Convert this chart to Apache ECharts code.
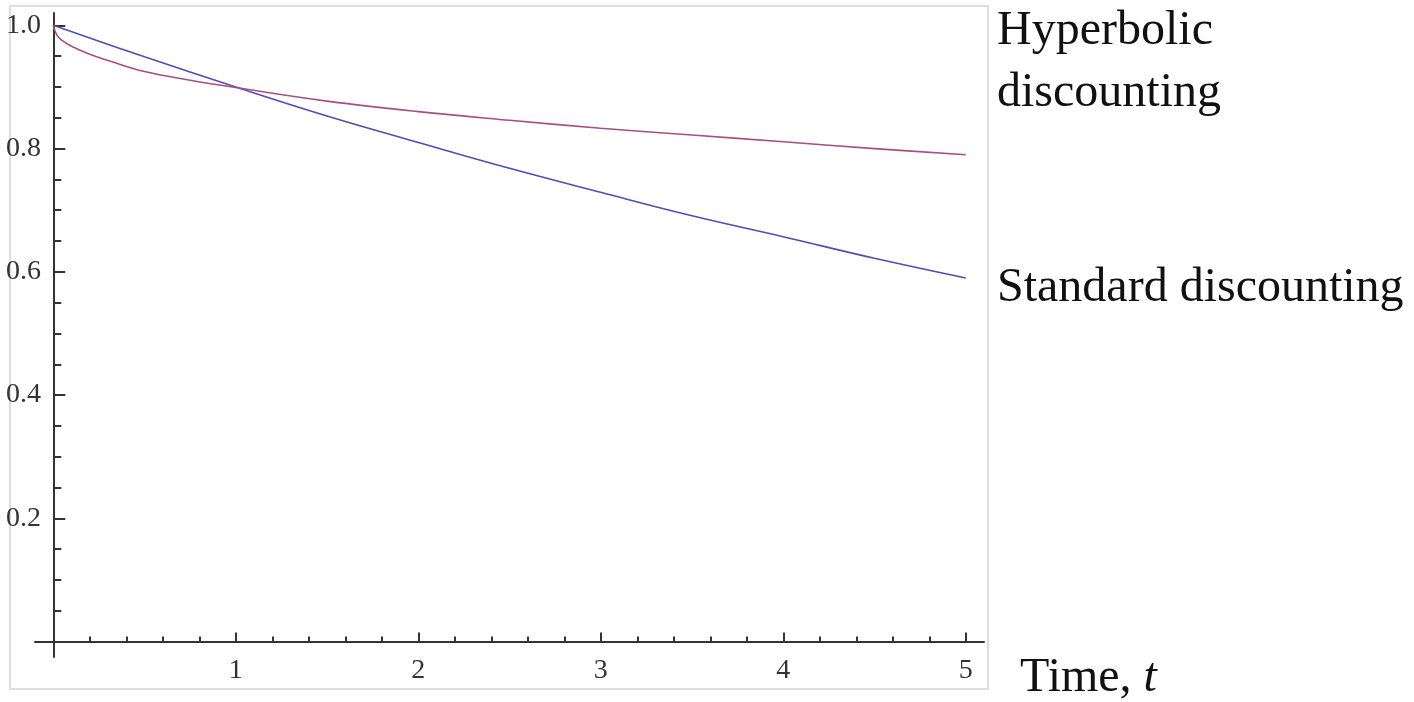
<!DOCTYPE html>
<html>
<head>
<meta charset="utf-8">
<title>Hyperbolic vs standard discounting</title>
<script src="https://cdn.jsdelivr.net/npm/echarts@6.0.0/dist/echarts.min.js"></script>
<style>
  html, body { margin: 0; padding: 0; background: #fff; }
  #main { width: 1414px; height: 702px; }
</style>
</head>
<body>
<div id="main"></div>
<script>
// values
const hyperTimes = [0, 0.02, 0.05, 0.1, 0.2, 0.3, 0.5, 0.75, 1, 1.5, 2, 2.5, 3, 3.5, 4, 4.5, 5];
const hyperValues = [1.0, 0.984, 0.975, 0.966, 0.953, 0.943, 0.925, 0.911, 0.899, 0.877, 0.860, 0.846, 0.833, 0.822, 0.811, 0.800, 0.790];
const standardTimes = [0, 0.5, 1, 1.5, 2, 2.5, 3, 3.5, 4, 4.5, 5];
const standardValues = [1.0, 0.949, 0.900, 0.853, 0.810, 0.768, 0.729, 0.691, 0.657, 0.622, 0.590];

// ticks
const xMajorTicks = [0, 1, 2, 3, 4, 5];
const xMinorTicks = [0.2, 0.4, 0.6, 0.8, 1.2, 1.4, 1.6, 1.8, 2.2, 2.4, 2.6, 2.8, 3.2, 3.4, 3.6, 3.8, 4.2, 4.4, 4.6, 4.8];
const xTickLabels = [1, 2, 3, 4, 5];
const yMajorTicks = [0.2, 0.4, 0.6, 0.8, 1.0];
const yMinorTicks = [0.05, 0.1, 0.15, 0.25, 0.3, 0.35, 0.45, 0.5, 0.55, 0.65, 0.7, 0.75, 0.85, 0.9, 0.95];
const yTickLabels = [0.2, 0.4, 0.6, 0.8, 1.0];

const serif = "'Liberation Serif', 'DejaVu Serif', serif";
const axisColor = '#333';

function pairs(xs, ys) {
  return xs.map((x, i) => [x, ys[i]]);
}

let chart = echarts.init(document.getElementById('main'));

let option = {
  animation: false,
  backgroundColor: '#fff',
  grid: {
    left: 35,
    top: 13,
    width: 949,
    height: 644,
    containLabel: false,
    outerBoundsMode: 'none'
  },
  xAxis: [
    {
      type: 'value',
      min: -0.1,
      max: 5.1,
      position: 'bottom',
      axisLine: { onZero: true, onZeroAxisIndex: 0, lineStyle: { color: axisColor, width: 2 } },
      axisTick: { inside: true, length: 9, customValues: xMajorTicks, lineStyle: { color: axisColor, width: 2 } },
      axisLabel: {
        customValues: xTickLabels,
        margin: 0,
        fontFamily: serif,
        fontSize: 28,
        color: '#333'
      },
      splitLine: { show: false }
    },
    {
      type: 'value',
      min: -0.1,
      max: 5.1,
      position: 'bottom',
      axisLine: { show: false, onZero: true, onZeroAxisIndex: 0 },
      axisTick: { inside: true, length: 5, customValues: xMinorTicks, lineStyle: { color: axisColor, width: 2 } },
      axisLabel: { show: false },
      splitLine: { show: false }
    }
  ],
  yAxis: [
    {
      type: 'value',
      min: -0.025,
      max: 1.02,
      position: 'left',
      axisLine: { show: true, onZero: true, onZeroAxisIndex: 0, lineStyle: { color: axisColor, width: 2 } },
      axisTick: { show: true, inside: true, length: 12, customValues: yMajorTicks, lineStyle: { color: axisColor, width: 2 } },
      axisLabel: {
        customValues: yTickLabels,
        margin: -6,
        fontFamily: serif,
        fontSize: 28,
        color: '#333',
        formatter: v => v.toFixed(1)
      },
      splitLine: { show: false }
    },
    {
      type: 'value',
      min: -0.025,
      max: 1.02,
      position: 'left',
      axisLine: { show: false, onZero: true, onZeroAxisIndex: 0 },
      axisTick: { show: true, inside: true, length: 8, customValues: yMinorTicks, lineStyle: { color: axisColor, width: 2 } },
      axisLabel: { show: false },
      splitLine: { show: false }
    }
  ],
  series: [
    {
      name: 'Standard discounting',
      type: 'line',
      xAxisIndex: 0,
      yAxisIndex: 0,
      data: pairs(standardTimes, standardValues),
      smooth: 0.4,
      showSymbol: false,
      lineStyle: { color: '#4f4fae', width: 1.6 },
      silent: true
    },
    {
      name: 'Hyperbolic discounting',
      type: 'line',
      xAxisIndex: 0,
      yAxisIndex: 0,
      data: pairs(hyperTimes, hyperValues),
      smooth: 0.4,
      showSymbol: false,
      lineStyle: { color: '#a84f80', width: 1.6 },
      silent: true
    }
  ],
  graphic: [
    {
      type: 'rect',
      z: -1,
      shape: { x: 10, y: 6, width: 978, height: 683 },
      style: { fill: 'none', stroke: '#dedede', lineWidth: 2 }
    },
    {
      type: 'text', left: 997, top: 7,
      style: { text: 'Hyperbolic', font: '48px ' + serif, fill: '#111' }
    },
    {
      type: 'text', left: 997, top: 69,
      style: { text: 'discounting', font: '48px ' + serif, fill: '#111' }
    },
    {
      type: 'text', left: 997, top: 264,
      style: { text: 'Standard discounting', font: '48px ' + serif, fill: '#111' }
    },
    {
      type: 'text', left: 1020, top: 654,
      style: {
        text: '{r|Time, }{i|t}',
        rich: {
          r: { fontFamily: serif, fontSize: 48, fill: '#111' },
          i: { fontFamily: serif, fontSize: 48, fontStyle: 'italic', fill: '#111' }
        }
      }
    }
  ]
};

chart.setOption(option);
</script>
</body>
</html>
